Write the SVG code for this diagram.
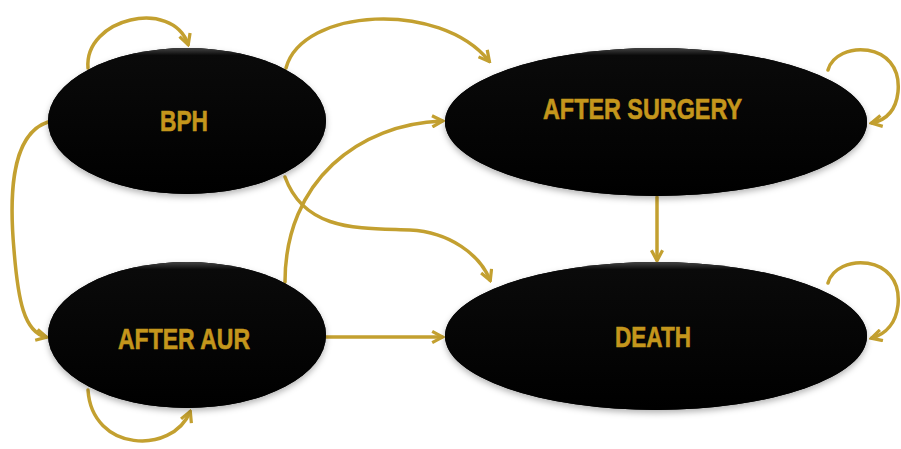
<svg xmlns="http://www.w3.org/2000/svg" width="901" height="449" viewBox="0 0 901 449">
<style>
.node{fill:#030303;filter:url(#sh);}
.lbl{font-family:"Liberation Sans",Arial,sans-serif;font-weight:bold;font-size:29px;fill:#C4961C;stroke:#C4961C;stroke-width:0.6;}
.c{fill:none;stroke:#C3A030;stroke-width:3.5;stroke-linecap:round;marker-end:url(#ah);}
</style>
<defs>
<filter id="sh" x="-10%" y="-10%" width="120%" height="130%">
<feGaussianBlur in="SourceAlpha" stdDeviation="3"/>
<feOffset dy="3" result="b"/>
<feFlood flood-color="#000" flood-opacity="0.3"/>
<feComposite in2="b" operator="in"/>
<feMerge><feMergeNode/><feMergeNode in="SourceGraphic"/></feMerge>
</filter>
<linearGradient id="sheen" x1="0" y1="0" x2="0" y2="1">
<stop offset="0" stop-color="#444"/>
<stop offset="0.05" stop-color="#0a0a0a"/>
<stop offset="1" stop-color="#000"/>
</linearGradient>
<marker id="ah" viewBox="0 0 10 10" refX="8" refY="5" markerWidth="14" markerHeight="14" markerUnits="userSpaceOnUse" orient="auto">
<path d="M1,1 L8.5,5 L1,9" fill="none" stroke="#C3A030" stroke-width="2.3" stroke-linejoin="miter"/>
</marker>
</defs>
<rect width="901" height="449" fill="#fff"/>
<g id="connectors">
<path class="c" d="M88 68 C84 18 172 -2 188 44"/>
<path class="c" d="M286 68 C302 8 440 0 489 61"/>
<path class="c" d="M285 282 C285 180 360 124 442 121"/>
<path class="c" d="M285 177 C305 232 360 228 410 230 C450 232 480 255 490 280"/>
<path class="c" d="M326 337 L442 337"/>
<path class="c" d="M657 197 L657 260"/>
<path class="c" d="M828 70 C836 40 903 40 898 92 C896 110 886 120 872 123"/>
<path class="c" d="M828 283 C836 253 903 253 898 305 C896 323 886 334 872 338"/>
<path class="c" d="M48 122 C8 135 10 205 14 250 C18 300 24 332 46 337"/>
<path class="c" d="M88 390 C92 452 172 455 190 412"/>
</g>
<g id="bph">
<ellipse class="node" cx="187" cy="121" rx="139" ry="73"/>
<ellipse cx="187" cy="121" rx="139" ry="73" fill="url(#sheen)"/>
<text class="lbl" x="160" y="131" textLength="48" lengthAdjust="spacingAndGlyphs">BPH</text>
</g>
<g id="after-surgery">
<ellipse class="node" cx="656" cy="122" rx="211" ry="74"/>
<ellipse cx="656" cy="122" rx="211" ry="74" fill="url(#sheen)"/>
<text class="lbl" x="543" y="119" textLength="199" lengthAdjust="spacingAndGlyphs">AFTER SURGERY</text>
</g>
<g id="after-aur">
<ellipse class="node" cx="187" cy="335" rx="139" ry="73"/>
<ellipse cx="187" cy="335" rx="139" ry="73" fill="url(#sheen)"/>
<text class="lbl" x="118" y="349" textLength="132" lengthAdjust="spacingAndGlyphs">AFTER AUR</text>
</g>
<g id="death">
<ellipse class="node" cx="656" cy="336" rx="211" ry="74"/>
<ellipse cx="656" cy="336" rx="211" ry="74" fill="url(#sheen)"/>
<text class="lbl" x="615" y="347" textLength="76" lengthAdjust="spacingAndGlyphs">DEATH</text>
</g>
</svg>
